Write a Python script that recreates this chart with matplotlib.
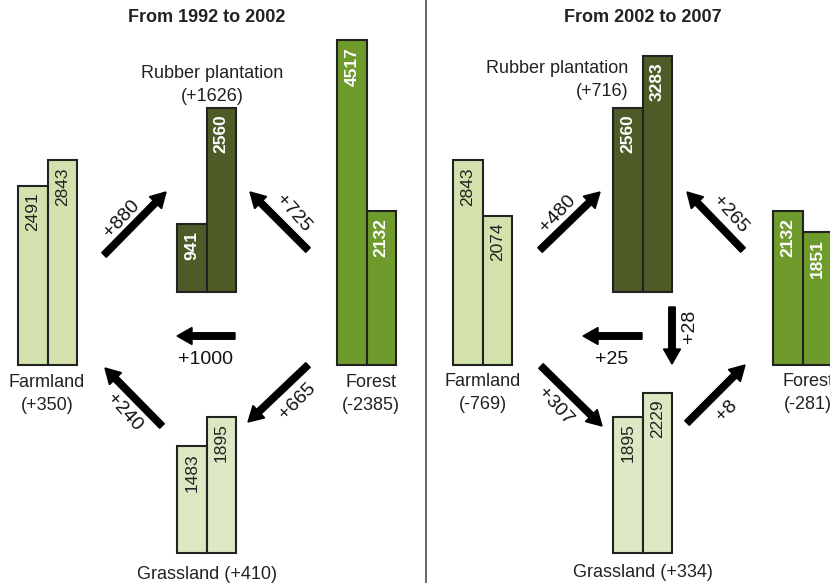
import matplotlib.pyplot as plt

plt.rcParams['font.family'] = ['Liberation Sans', 'DejaVu Sans']

# Land-use areas (ha) and net changes
classes = ['Farmland', 'Rubber plantation', 'Forest', 'Grassland']
area_1992 = [2491, 941, 4517, 1483]
area_2002 = [2843, 2560, 2132, 1895]
area_2007 = [2074, 3283, 1851, 2229]
change_1992_2002 = [350, 1626, -2385, 410]
change_2002_2007 = [-769, 716, -281, 334]

# Conversion flows (ha): source -> target
flows_1992_2002 = [('Farmland', 'Rubber plantation', 880),
                   ('Forest', 'Rubber plantation', 725),
                   ('Forest', 'Farmland', 1000),
                   ('Forest', 'Grassland', 665),
                   ('Grassland', 'Farmland', 240)]
flows_2002_2007 = [('Farmland', 'Rubber plantation', 480),
                   ('Forest', 'Rubber plantation', 265),
                   ('Forest', 'Farmland', 25),
                   ('Rubber plantation', 'Grassland', 28),
                   ('Farmland', 'Grassland', 307),
                   ('Grassland', 'Forest', 8)]

colors = {'Farmland': '#d3e1ad', 'Rubber plantation': '#4d5c27',
          'Forest': '#6f9a2c', 'Grassland': '#dce7c4'}
dark = {'Rubber plantation', 'Forest'}

scale = 0.072   # pixels per ha
bar_w = 29.5

# layout (pixel units): bar group left edge and baseline
groups_left = {'Farmland': (18, 365), 'Rubber plantation': (177, 292),
               'Forest': (337, 365), 'Grassland': (177, 553)}
groups_right = {'Farmland': (453, 365), 'Rubber plantation': (613, 292),
                'Forest': (773, 365), 'Grassland': (613, 553)}

# label layout: x, y, ha
labels_left = {'Farmland': (47, 374, 'center'), 'Rubber plantation': (212, 65, 'center'),
               'Forest': (371, 374, 'center'), 'Grassland': (207, 566, 'center')}
labels_right = {'Farmland': (483, 373, 'center'), 'Rubber plantation': (628, 60, 'right'),
                'Forest': (808, 373, 'center'), 'Grassland': (643, 564, 'center')}

# arrow layout: tail, head, label position, label rotation
arrows_left = [((104, 255), (166, 192), (120, 217), 47),
               ((308, 250), (250, 192), (295, 212), -48),
               ((235, 336), (177, 336), (205, 357), 0),
               ((308, 365), (248, 422), (296, 400), 45),
               ((162, 426), (105, 368), (126, 411), -48)]
arrows_right = [((540, 250), (600, 192), (556, 212), 47),
                ((743, 250), (687, 192), (732, 213), -48),
                ((642, 336), (583, 336), (612, 357), 0),
                ((672, 307), (672, 364), (687, 326), 90),
                ((541, 366), (602, 426), (557, 405), -48),
                ((687, 423), (745, 365), (725, 409), 45)]

fig = plt.figure(figsize=(8.3, 5.83), dpi=100)
ax = fig.add_axes([0, 0, 1, 1])
ax.set_xlim(0, 830)
ax.set_ylim(583, 0)
ax.axis('off')


def draw_panel(before, after, change, flows, groups, labels, arrows, title, title_x):
    for i, cls in enumerate(classes):
        x0, base = groups[cls]
        for j, v in enumerate([before[i], after[i]]):
            bx = x0 + j * bar_w
            ax.bar(bx, -v * scale, width=bar_w, bottom=base, align='edge',
                   color=colors[cls], edgecolor='#222222', linewidth=1.5)
            top = base - v * scale
            if cls in dark:
                ax.text(bx + bar_w / 2, top + 7, str(v), rotation=90, ha='center',
                        va='top', color='white', fontsize=12.5, fontweight='bold')
            else:
                ax.text(bx + bar_w / 2, top + 7, str(v), rotation=90, ha='center',
                        va='top', color='#222222', fontsize=12.5)
        lx, ly, ha = labels[cls]
        if cls == 'Grassland':
            txt = f'{cls} ({change[i]:+d})'
        else:
            txt = f'{cls}\n({change[i]:+d})'
        ax.text(lx, ly, txt, ha=ha, va='top', ma=ha, fontsize=13,
                color='#222222', linespacing=1.45)
    for (src, dst, val), (tail, head, lpos, rot) in zip(flows, arrows):
        ax.arrow(tail[0], tail[1], head[0] - tail[0], head[1] - tail[1],
                 width=6.5, head_width=17, head_length=15,
                 length_includes_head=True, fc='black', ec='black')
        ax.text(lpos[0], lpos[1], f'+{val}', rotation=rot, ha='center',
                va='center_baseline', fontsize=14, color='#111111',
                rotation_mode='anchor')
    ax.text(title_x, 17, title, ha='center', va='center', fontsize=13,
            fontweight='bold', color='#222222')


draw_panel(area_1992, area_2002, change_1992_2002, flows_1992_2002,
           groups_left, labels_left, arrows_left, 'From 1992 to 2002', 207)
draw_panel(area_2002, area_2007, change_2002_2007, flows_2002_2007,
           groups_right, labels_right, arrows_right, 'From 2002 to 2007', 643)

ax.plot([425.5, 425.5], [0, 583], color='#666666', linewidth=1.4)

plt.savefig('out.png', dpi=100)
